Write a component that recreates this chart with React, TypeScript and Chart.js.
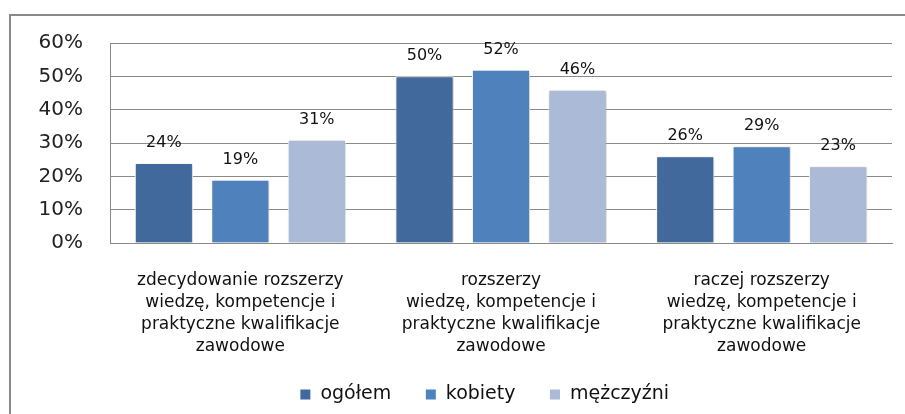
import React, { useEffect, useRef } from "react";
import { Chart, registerables } from "chart.js";

Chart.register(...registerables);

const categories: string[][] = [
  ["zdecydowanie rozszerzy", "wiedzę, kompetencje i", "praktyczne kwalifikacje", "zawodowe"],
  ["rozszerzy", "wiedzę, kompetencje i", "praktyczne kwalifikacje", "zawodowe"],
  ["raczej rozszerzy", "wiedzę, kompetencje i", "praktyczne kwalifikacje", "zawodowe"],
];
const seriesNames = ["ogółem", "kobiety", "mężczyźni"];
const ogolem = [24, 50, 26];
const kobiety = [19, 52, 29];
const mezczyzni = [31, 46, 23];
const colors = ["#41699b", "#4f81bd", "#aabad7"];
const yTicks = [0, 10, 20, 30, 40, 50, 60];

const FONT = "'DejaVu Sans', sans-serif";

const framePlugin = {
  id: "frame",
  afterLayout(chart: any) {
    if (chart.legend) {
      chart.legend.left = 77;
      chart.legend.right = 892;
    }
  },
  beforeDraw(chart: any) {
    const ctx = chart.ctx;
    ctx.save();
    ctx.fillStyle = "#ffffff";
    ctx.fillRect(0, 0, chart.width, chart.height);
    ctx.strokeStyle = "#8a8a8a";
    ctx.lineWidth = 2;
    ctx.strokeRect(10, 15, 2000, 2000);
    ctx.restore();
  },
  beforeDatasetsDraw(chart: any) {
    const ctx = chart.ctx;
    ctx.save();
    ctx.shadowColor = "rgba(0,0,0,0.28)";
    ctx.shadowBlur = 3;
    ctx.shadowOffsetX = 1;
    ctx.shadowOffsetY = 1;
  },
  afterDatasetsDraw(chart: any) {
    chart.ctx.restore();
  },
};

const labelPlugin = {
  id: "valueLabels",
  afterDatasetsDraw(chart: any) {
    const ctx = chart.ctx;
    ctx.save();
    ctx.font = `16px ${FONT}`;
    ctx.fillStyle = "#111";
    ctx.textAlign = "center";
    ctx.textBaseline = "alphabetic";
    chart.data.datasets.forEach((ds: any, i: number) => {
      const meta = chart.getDatasetMeta(i);
      meta.data.forEach((bar: any, j: number) => {
        ctx.fillText(`${ds.data[j]}%`, bar.x, bar.y - 16);
      });
    });
    ctx.restore();
  },
};

export default function App() {
  const ref = useRef<HTMLCanvasElement>(null);
  useEffect(() => {
    if (!ref.current) return;
    const values = [ogolem, kobiety, mezczyzni];
    const chart = new Chart(ref.current, {
      type: "bar",
      data: {
        labels: categories,
        datasets: seriesNames.map((name, i) => ({
          label: name,
          data: values[i],
          backgroundColor: colors[i],
          borderColor: "#ffffff",
          borderWidth: 1,
          categoryPercentage: 0.88,
          barPercentage: 0.76,
        })),
      },
      options: {
        animation: false,
        responsive: false,
        layout: { padding: { top: 43, right: 13, left: 0, bottom: 0 } },
        plugins: {
          tooltip: { enabled: false },
          legend: {
            position: "bottom",
            labels: {
              boxWidth: 11,
              boxHeight: 11,
              padding: 34,
              color: "#111",
              font: { family: FONT, size: 19 },
            },
          },
        },
        scales: {
          x: {
            grid: { display: false, drawTicks: false },
            border: { display: true, color: "#8a8a8a", width: 1 },
            ticks: {
              color: "#111",
              padding: 27,
              maxRotation: 0,
              autoSkip: false,
              font: { family: FONT, size: 17, lineHeight: 22 / 17 },
            },
            afterFit(scale: any) {
              scale.height = 108;
            },
          },
          y: {
            min: 0,
            max: 60,
            afterBuildTicks(scale: any) {
              scale.ticks = yTicks.map((v) => ({ value: v }));
            },
            grid: { color: "#8a8a8a", drawTicks: false },
            border: { display: true, color: "#8a8a8a", width: 1 },
            ticks: {
              color: "#222",
              padding: 27,
              font: { family: FONT, size: 20 },
              callback: (v: any) => `${v}%`,
            },
            afterFit(scale: any) {
              scale.width = 110;
            },
          },
        },
      },
      plugins: [framePlugin, labelPlugin],
    });
    return () => chart.destroy();
  }, []);
  return (
    <div style={{ position: "fixed", left: 0, top: 0, width: 905, height: 414 }}>
      <canvas ref={ref} width={905} height={414} />
    </div>
  );
}
